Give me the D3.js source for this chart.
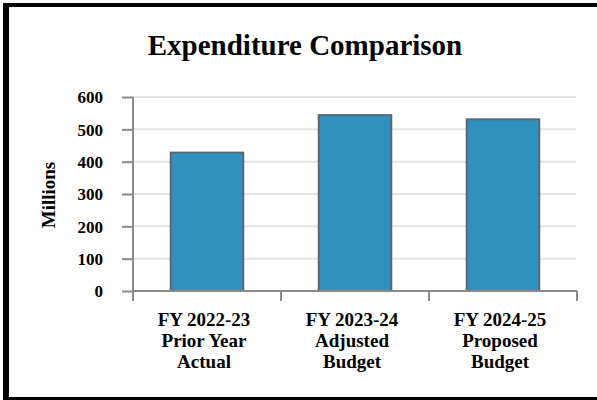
<!DOCTYPE html>
<html><head><meta charset="utf-8">
<script src="https://cdn.jsdelivr.net/npm/d3@7"></script>
<style>html,body{margin:0;padding:0;background:#fff;}svg{display:block;}</style>
</head><body>
<script>
const categories = [
  ["FY 2022-23","Prior Year","Actual"],
  ["FY 2023-24","Adjusted","Budget"],
  ["FY 2024-25","Proposed","Budget"]
];
const values = [428, 544, 531];
const yTicks = [0,100,200,300,400,500,600];
const title = "Expenditure Comparison";
const yTitle = "Millions";

const W = 597, H = 400;
const svg = d3.select("body").append("svg").attr("width", W).attr("height", H);
svg.append("rect").attr("width", W).attr("height", H).attr("fill", "#fff");

// frame
svg.append("rect").attr("x",3).attr("y",3).attr("width",6).attr("height",397).attr("fill","#000");
svg.append("rect").attr("x",3).attr("y",3).attr("width",594).attr("height",4).attr("fill","#000");
svg.append("rect").attr("x",3).attr("y",397).attr("width",594).attr("height",3).attr("fill","#000");

const font = "'Liberation Serif','Times New Roman',serif";
const x0 = 133, x1 = 577, yBase = 291, yTop = 97;
const keys = categories.map(c => c[0]);
const x = d3.scaleBand().domain(keys).range([x0, x1]).padding(0);
const y = d3.scaleLinear().domain([0, 600]).range([yBase, yTop]);

// gridlines
svg.append("g").selectAll("line").data(yTicks.filter(t => t > 0)).join("line")
  .attr("x1", x0).attr("x2", x1 - 1)
  .attr("y1", d => y(d)).attr("y2", d => y(d))
  .attr("stroke", "#e3e3e3").attr("stroke-width", 2);

// bars
const bw = x.bandwidth() * 0.49;
svg.append("g").selectAll("rect").data(values).join("rect")
  .attr("x", (d,i) => x(keys[i]) + x.bandwidth()/2 - bw/2)
  .attr("y", d => y(d))
  .attr("width", bw)
  .attr("height", d => yBase - y(d))
  .attr("fill", "#3191be")
  .attr("stroke", "#5b6670").attr("stroke-width", 2);

// y axis
const yAxis = svg.append("g").attr("transform", `translate(${x0},0)`)
  .call(d3.axisLeft(y).tickValues(yTicks).tickSize(11).tickPadding(19).tickSizeOuter(0));
yAxis.select(".domain").attr("stroke", "#8a8a8a").attr("stroke-width", 2)
  .attr("d", `M0,${yTop}V${yBase+10}`);
yAxis.selectAll(".tick line").attr("stroke", "#8a8a8a").attr("stroke-width", 2);
yAxis.selectAll(".tick text").attr("font-family", font).attr("font-weight", "bold")
  .attr("font-size", 17).attr("fill", "#000").attr("dy", "0.35em");

// x axis baseline and boundary ticks
const bounds = keys.map(k => x(k)).concat([x1]);
svg.append("line").attr("x1", x0).attr("x2", x1).attr("y1", yBase).attr("y2", yBase)
  .attr("stroke", "#8a8a8a").attr("stroke-width", 2);
svg.append("g").selectAll("line").data(bounds.slice(1)).join("line")
  .attr("x1", d => d).attr("x2", d => d).attr("y1", yBase).attr("y2", yBase + 10)
  .attr("stroke", "#8a8a8a").attr("stroke-width", 2);

// category labels
const lineY = [325.7, 347, 368.3];
categories.forEach((c, i) => {
  c.forEach((t, j) => {
    svg.append("text").attr("x", x(keys[i]) + x.bandwidth()/2 - 3).attr("y", lineY[j])
      .attr("text-anchor", "middle").attr("font-family", font).attr("font-weight", "bold")
      .attr("font-size", 19).attr("fill", "#000").text(t);
  });
});

// title
svg.append("text").attr("x", 305).attr("y", 55).attr("text-anchor", "middle")
  .attr("font-family", font).attr("font-weight", "bold").attr("font-size", 29)
  .attr("fill", "#000").text(title);

// y title
svg.append("text").attr("transform", "translate(55,195) rotate(-90)")
  .attr("text-anchor", "middle").attr("font-family", font).attr("font-weight", "bold")
  .attr("font-size", 19).attr("fill", "#000").text(yTitle);
</script>
</body></html>
